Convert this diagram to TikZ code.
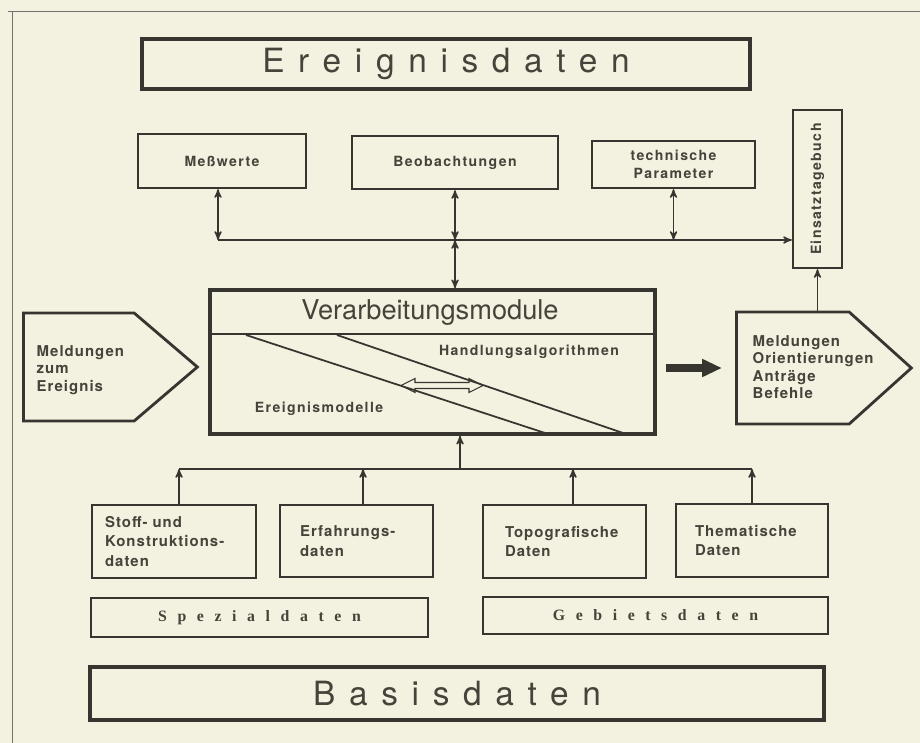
\documentclass[tikz,border=0pt]{standalone}
\usepackage{fontspec}
\setmainfont{TeX Gyre Heros}
\newfontfamily\titlefont[LetterSpace=41]{TeX Gyre Heros}
\newfontfamily\labelfont[LetterSpace=10]{TeX Gyre Heros}
\newfontfamily\msgfont[LetterSpace=7]{TeX Gyre Heros}
\newfontfamily\spacedserif[LetterSpace=67]{Liberation Serif}
\usetikzlibrary{arrows,arrows.meta,shapes.symbols}
\definecolor{paper}{HTML}{F3F1DF}
\definecolor{ink}{HTML}{363530}
\definecolor{print}{HTML}{45433A}

\begin{document}
\begin{tikzpicture}[>=stealth',x=0.02cm,y=-0.02cm,line width=0.8pt,
                    color=ink,text=print]
  \tikzstyle{box}=[draw,rectangle,line width=1.3pt,inner sep=0pt]
  \tikzstyle{bigbox}=[box,line width=2pt]
  \tikzstyle{lbl}=[font=\labelfont\bfseries\fontsize{8}{10}\selectfont]
  \tikzstyle{datbox}=[box,align=left,minimum height=1.45cm,
                      font=\msgfont\bfseries\fontsize{8.5}{11}\selectfont]
  \tikzstyle{msg}=[signal,signal to=east,draw,line width=1.6pt,inner sep=0pt,anchor=west]
  \tikzstyle{msgtext}=[align=left,anchor=west,inner sep=0pt,
                       font=\msgfont\bfseries\fontsize{8.5}{10}\selectfont]
  \tikzstyle{spaced}=[font=\spacedserif\bfseries\fontsize{9}{9}\selectfont]
  \tikzstyle{title}=[font=\titlefont\fontsize{19}{19}\selectfont]

  % paper and frame
  \fill[paper] (0,0) rectangle (920,743);
  \useasboundingbox (0,0) rectangle (920,743);
  \draw[line width=0.5pt,ink!70] (8,11) -- (920,11);
  \draw[line width=0.5pt,ink!70] (12,11) -- (12,743);

  \node[bigbox,title,minimum width=12.16cm,minimum height=1cm] (ereig) at (446,64) {Ereignisdaten};

  \node[box,lbl,minimum width=3.36cm,minimum height=1.08cm] (mess) at (222,161) {Meßwerte};
  \node[box,lbl,minimum width=4.12cm,minimum height=1.06cm] (beob) at (455,162.5) {Beobachtungen};
  \node[box,lbl,align=center,minimum width=3.26cm,minimum height=0.94cm] (tech) at (673.5,164.5) {technische\\Parameter};
  % rotated: north is the left side, west the bottom
  \node[box,lbl,rotate=90,minimum width=3.16cm,minimum height=0.98cm] (tageb) at (817.5,189) {Einsatztagebuch};

  % processing block
  \node[bigbox,minimum width=8.9cm,minimum height=2.88cm] (verarb) at (432.5,362) {};
  \node[font=\fontsize{15.5}{15.5}\selectfont] (vtitle) at (430,313) {Verarbeitungsmodule};
  \draw (verarb.west |- 0,334) -- (verarb.east |- 0,334);
  \node[lbl] (handl) at (529,352) {Handlungsalgorithmen};
  \node[lbl] (ereigm) at (319,409) {Ereignismodelle};
  \coordinate (dbl) at (442,385.5);
  \draw[line width=0.6pt,fill=paper] (dbl) ++(-41,0) -- ++(14,-7) -- ++(0,4) -- ++(54,0)
    -- ++(0,-4) -- ++(14,7) -- ++(-14,7) -- ++(0,-4) -- ++(-54,0) -- ++(0,4) -- cycle;
  \draw[line width=1pt] (246,335) -- (545,433);
  \draw[line width=1pt] (337,335) -- (623,433);

  % messages in and out
  \node[msg,minimum width=3.48cm,minimum height=2.16cm,signal pointer angle=81] (ein) at (22,367) {};
  \node[msgtext] (eintxt) at (36,370) {Meldungen\\zum\\Ereignis};
  \node[msg,minimum width=3.5cm,minimum height=2.24cm,signal pointer angle=84] (aus) at (735,368) {};
  \node[msgtext] (austxt) at (752,367) {Meldungen\\Orientierungen\\Anträge\\Befehle};

  \draw[line width=4pt,-{Triangle[length=0.4cm,width=0.34cm]},shorten <=0.18cm,shorten >=0.26cm]
    (verarb.east |- aus.west) -- (aus.west);
  \draw[->] (tageb.west |- aus.north) -- (tageb.west);

  % upper bus
  \coordinate (busl) at (218,240);
  \draw[<->] (mess.south -| busl) -- (busl);
  \draw[<->] (beob.south) -- (beob.south |- busl);
  \draw[<->] (tech.south) -- (tech.south |- busl);
  \draw[->] (busl) -- (busl -| tageb.north);
  \draw[<->] (beob.south |- busl) -- (beob.south |- verarb.north);

  % data stores
  \node[datbox,inner xsep=0.26cm,text width=2.76cm] (stoff) at (174,541.5) {Stoff- und\\Konstruktions-\\daten};
  \node[datbox,inner xsep=0.4cm,text width=2.26cm] (erf) at (356.5,541) {Erfahrungs-\\daten};
  \node[datbox,inner xsep=0.44cm,text width=2.38cm] (topo) at (564.5,541.5) {Topografische\\Daten};
  \node[datbox,inner xsep=0.38cm,text width=2.28cm] (them) at (752,540.5) {Thematische\\Daten};

  \node[box,spaced,minimum width=6.74cm,minimum height=0.78cm] (spez) at (259.5,617.5) {Spezialdaten};
  \node[box,spaced,minimum width=6.9cm,minimum height=0.74cm] (gebiet) at (655.5,615.5) {Gebietsdaten};

  \node[bigbox,title,minimum width=14.68cm,minimum height=1.06cm] (basis) at (457,693.5) {Basisdaten};

  % lower bus
  \coordinate (busb) at (460,469);
  \draw[->] (busb) -- (busb |- verarb.south);
  \draw (179,469) coordinate (bbl) -- (752,469) coordinate (bbr);
  \foreach \b/\x in {stoff/179,erf/363,topo/573,them/752}
  {
    \coordinate (j\b) at (\x,469);
    \draw[->] (j\b |- \b.north) -- (j\b);
  }
\end{tikzpicture}
\end{document}
